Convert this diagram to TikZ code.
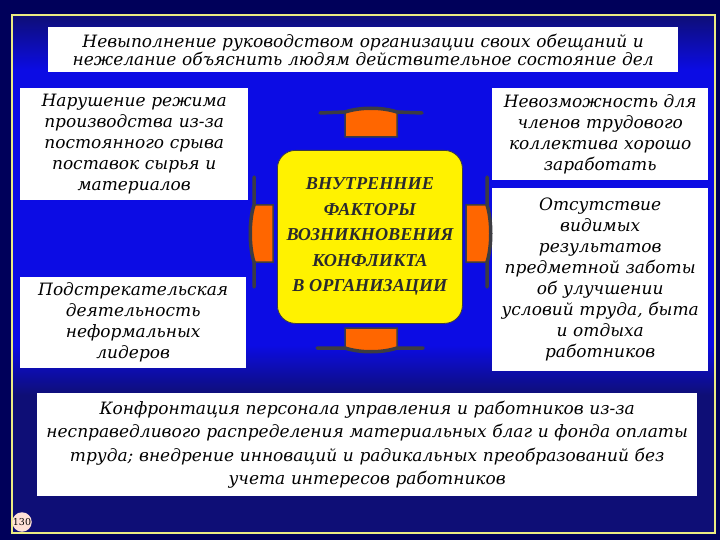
\documentclass[tikz,border=0pt]{standalone}
\usepackage{fontspec}
\setmainfont{DejaVu Serif}
\newfontfamily\headfont{Liberation Serif}
\usetikzlibrary{positioning}
\definecolor{navy}{RGB}{0,0,90}
\definecolor{deepblue}{RGB}{14,14,118}
\definecolor{brightblue}{RGB}{12,12,228}
\definecolor{frameyellow}{RGB}{235,235,130}
\definecolor{plateorange}{RGB}{255,102,0}
\definecolor{edgegray}{RGB}{60,60,66}
\definecolor{pagepink}{RGB}{255,225,215}
\tikzset{
  factor/.style={fill=white, inner sep=0pt, anchor=north west, align=center,
    font=\itshape\fontsize{17}{21}\selectfont},
  plate/.style={fill=plateorange, draw=edgegray, line width=1.5pt},
  bar/.style={draw=edgegray, line width=3.5pt, line cap=round}
}
\begin{document}
\begin{tikzpicture}[x=1pt,y=-1pt]
% background
\fill[navy] (0,0) rectangle (720,540);
\fill[deepblue] (12,15) rectangle (715,533);
\shade[top color=deepblue, bottom color=brightblue] (12,15) rectangle (715,70);
\fill[brightblue] (12,70) rectangle (715,345);
\shade[top color=brightblue, bottom color=deepblue] (12,345) rectangle (715,395);
\draw[frameyellow, line width=1.5pt] (12,15) rectangle (715,533);

\node[factor, minimum width=630, minimum height=45, text width=620,
  font=\itshape\fontsize{17}{18}\selectfont] (promises) at (48,27)
  {Невыполнение руководством организации своих обещаний и\\
   нежелание объяснить людям действительное состояние дел};

\node[factor, minimum width=228, minimum height=112, text width=220] (regime) at (20,88)
  {Нарушение режима\\ производства из-за\\ постоянного срыва\\ поставок сырья и\\ материалов};
\node[factor, minimum width=226, minimum height=91, text width=220] (leaders) at (20,277)
  {Подстрекательская\\ деятельность\\ неформальных\\ лидеров};
\node[factor, minimum width=216, minimum height=92, text width=210] (earn) at (492,88)
  {Невозможность для\\ членов трудового\\ коллектива хорошо\\ заработать};
\node[factor, minimum width=216, minimum height=183, text width=210] (care) at (492,188)
  {Отсутствие\\ видимых\\ результатов\\ предметной заботы\\ об улучшении\\ условий труда, быта\\ и отдыха\\ работников};
\node[factor, minimum width=660, minimum height=103, text width=650,
  font=\itshape\fontsize{17}{23.5}\selectfont] (confront) at (37,393)
  {Конфронтация персонала управления и работников из-за\\
   несправедливого распределения материальных благ и фонда оплаты\\
   труда; внедрение инноваций и радикальных преобразований без\\
   учета интересов работников};

% plates round the centre
\draw[plate] (345,137) -- (345,112) .. controls (360,107) and (382,107) .. (397,112) -- (397,137) -- cycle;
\draw[bar] (320,113) -- (345,112) .. controls (360,107) and (382,107) .. (397,112) -- (422,113);
\draw[plate] (345,328) -- (345,348) .. controls (360,353) and (382,353) .. (397,348) -- (397,328) -- cycle;
\draw[bar] (317,348) -- (345,348) .. controls (360,353) and (382,353) .. (397,348) -- (423,348);
\draw[plate] (273,205) -- (254,205) .. controls (249,220) and (249,247) .. (254,262) -- (273,262) -- cycle;
\draw[bar] (254,177) -- (254,205) .. controls (249,220) and (249,247) .. (254,262) -- (254,287);
\draw[plate] (466,205) -- (487,205) .. controls (492,220) and (492,247) .. (487,262) -- (466,262) -- cycle;
\draw[bar] (487,177) -- (487,205) .. controls (492,220) and (492,247) .. (487,262) -- (487,287);

\node[fill=yellow, draw=edgegray, line width=0.8pt, rounded corners=18pt, anchor=north west,
  minimum width=185, minimum height=173, inner sep=0pt, align=center, text=edgegray!70!black,
  font=\headfont\bfseries\itshape\fontsize{18.2}{25.5}\selectfont] (factors) at (277,150)
  {ВНУТРЕННИЕ\\ ФАКТОРЫ\\ ВОЗНИКНОВЕНИЯ\\ КОНФЛИКТА\\ В ОРГАНИЗАЦИИ};

\node[circle, fill=pagepink, inner sep=0pt, minimum size=19, font=\fontsize{9.5}{9.5}\selectfont] (page) at (22,522) {130};
\end{tikzpicture}
\end{document}
